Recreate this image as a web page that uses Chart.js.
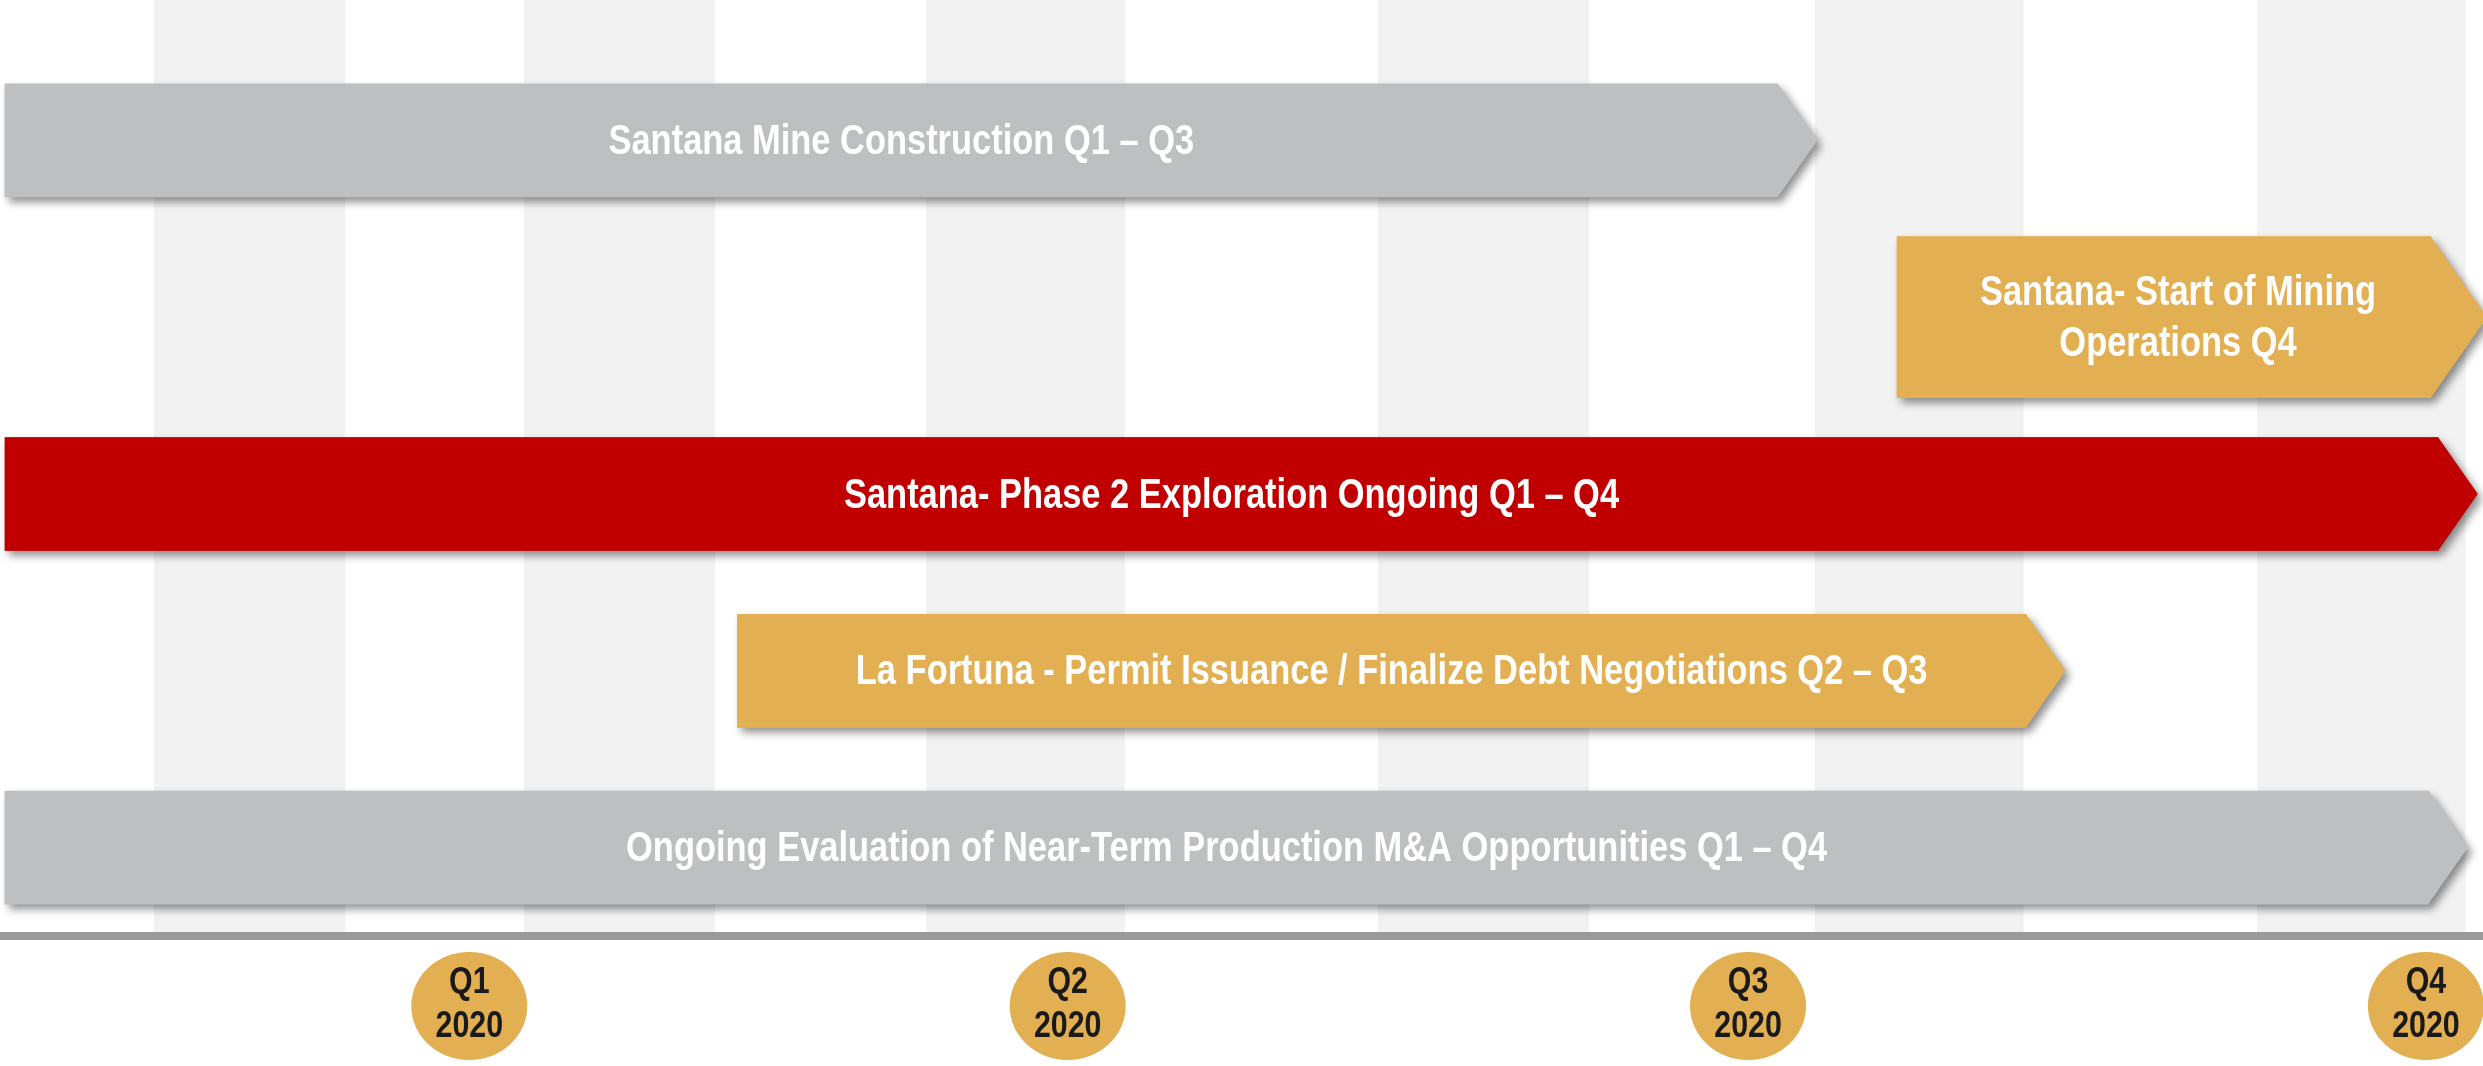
<!DOCTYPE html>
<html>
<head>
<meta charset="utf-8">
<script src="https://cdn.jsdelivr.net/npm/chart.js@4.4.1/dist/chart.umd.min.js"></script>
<style>
  html, body { margin: 0; padding: 0; background: #ffffff; }
  #wrap { width: 2483px; height: 1066px; }
</style>
</head>
<body>
<div id="wrap"><canvas id="roadmap" width="2483" height="1066"></canvas></div>
<script>
// timeline runs 0..100 from the left edge to the right edge of the page
const taskNames = [
  ['Santana Mine Construction Q1 – Q3'],
  ['Santana- Start of Mining', 'Operations Q4'],
  ['Santana- Phase 2 Exploration Ongoing Q1 – Q4'],
  ['La Fortuna - Permit Issuance / Finalize Debt Negotiations Q2 – Q3'],
  ['Ongoing Evaluation of Near-Term Production M&A Opportunities Q1 – Q4']
];
const taskStart = [0.2, 76.4, 0.2, 29.7, 0.2];
const taskEnd = [71.6, 97.9, 98.2, 81.6, 97.8];

const quarterPos = [18.9, 43.0, 70.4, 97.7];
const quarterLabels = [['Q1', '2020'], ['Q2', '2020'], ['Q3', '2020'], ['Q4', '2020']];

// shaded background bands
const bandStart = [6.2, 21.1, 37.3, 55.5, 73.1, 90.9];
const bandEnd = [13.9, 28.8, 45.3, 64.0, 81.5, 99.3];

// styles
const GREY = '#bebfc1', GOLD = '#e2af52', RED = '#c00000';
const barColors = [GREY, GOLD, RED, GOLD, GREY];

// narrow bold face if we have one, otherwise squeeze the regular one
const probe = document.createElement('canvas').getContext('2d');
probe.font = 'bold 40px "Liberation Sans Narrow"';
const wNarrow = probe.measureText('Santana Mine Construction').width;
probe.font = 'bold 40px "Liberation Sans"';
const wWide = probe.measureText('Santana Mine Construction').width;
const HAS_NARROW = wNarrow < wWide * 0.9;
const FACE = HAS_NARROW ? '"Liberation Sans Narrow", "Arial Narrow"' : '"Liberation Sans", Arial';
const SQUEEZE = HAS_NARROW ? 1 : 0.82;

function eachBar(chart, fn) {
  chart.data.datasets.forEach((ds, di) => {
    const meta = chart.getDatasetMeta(di);
    meta.data.forEach((el, i) => {
      if (ds.data[i] == null) return;
      fn(el.getProps(['x', 'y', 'base', 'height'], true), i);
    });
  });
}

function squeezedText(ctx, str, x, y) {
  ctx.save();
  ctx.translate(x, y);
  ctx.scale(SQUEEZE, 1);
  ctx.fillText(str, 0, 0);
  ctx.restore();
}

const arrows = {
  id: 'arrows',
  beforeDraw(chart) {
    const {ctx, chartArea, scales} = chart;
    ctx.save();
    ctx.fillStyle = '#ffffff';
    ctx.fillRect(0, 0, chart.width, chart.height);
    ctx.fillStyle = '#f2f2f2';
    bandStart.forEach((s, i) => {
      const a = scales.x.getPixelForValue(s), b = scales.x.getPixelForValue(bandEnd[i]);
      ctx.fillRect(a, 0, b - a, chartArea.bottom);
    });
    // quarter badges
    ctx.fillStyle = GOLD;
    scales.x.ticks.forEach(t => {
      const px = scales.x.getPixelForValue(t.value);
      ctx.beginPath();
      ctx.ellipse(px, scales.x.top + 70, 58, 54, 0, 0, Math.PI * 2);
      ctx.fill();
    });
    ctx.restore();
  },
  beforeDatasetsDraw(chart) {
    const ctx = chart.ctx;
    eachBar(chart, (p, i) => {
      const left = Math.min(p.x, p.base), right = Math.max(p.x, p.base);
      const top = p.y - p.height / 2, bot = p.y + p.height / 2;
      const tip = p.height * 0.35;
      ctx.save();
      ctx.shadowColor = 'rgba(0,0,0,0.45)';
      ctx.shadowBlur = 8;
      ctx.shadowOffsetX = 4;
      ctx.shadowOffsetY = 5;
      ctx.fillStyle = barColors[i];
      ctx.beginPath();
      ctx.moveTo(left, top);
      ctx.lineTo(right, top);
      ctx.lineTo(right + tip, p.y);
      ctx.lineTo(right, bot);
      ctx.lineTo(left, bot);
      ctx.closePath();
      ctx.fill();
      ctx.restore();
    });
  },
  afterDatasetsDraw(chart) {
    const ctx = chart.ctx;
    eachBar(chart, (p, i) => {
      const left = Math.min(p.x, p.base), right = Math.max(p.x, p.base);
      const tip = p.height * 0.35;
      const cx = (left + right) / 2 + tip / 4;
      const lines = taskNames[i];
      const lh = 51;
      ctx.save();
      ctx.fillStyle = '#ffffff';
      ctx.font = 'bold 42px ' + FACE;
      ctx.textAlign = 'center';
      ctx.textBaseline = 'middle';
      lines.forEach((ln, k) => {
        squeezedText(ctx, ln, cx, p.y + (k - (lines.length - 1) / 2) * lh + 2);
      });
      ctx.restore();
    });
  },
  afterDraw(chart) {
    // quarter labels on the badges, taken from the x-axis ticks
    const {ctx, scales} = chart;
    ctx.save();
    ctx.fillStyle = '#1a1a1a';
    ctx.font = 'bold 37px ' + FACE;
    ctx.textAlign = 'center';
    ctx.textBaseline = 'middle';
    scales.x.ticks.forEach((t, i) => {
      const px = scales.x.getPixelForValue(t.value);
      quarterLabels[i].forEach((ln, k) => {
        squeezedText(ctx, ln, px, scales.x.top + 47 + k * 44);
      });
    });
    ctx.restore();
  }
};

new Chart(document.getElementById('roadmap'), {
  type: 'bar',
  data: {
    labels: taskNames.map(n => n.join(' ')),
    datasets: [
      {
        label: 'One-line tasks',
        data: taskNames.map((n, i) => n.length === 1 ? [taskStart[i], taskEnd[i]] : null),
        backgroundColor: barColors,
        barThickness: 113,
        grouped: false
      },
      {
        label: 'Two-line tasks',
        data: taskNames.map((n, i) => n.length > 1 ? [taskStart[i], taskEnd[i]] : null),
        backgroundColor: barColors,
        barThickness: 161,
        grouped: false
      }
    ]
  },
  options: {
    indexAxis: 'y',
    responsive: false,
    animation: false,
    devicePixelRatio: 1,
    layout: { padding: { top: 52, left: 0, right: 0, bottom: 0 } },
    plugins: {
      legend: { display: false },
      tooltip: { enabled: false }
    },
    scales: {
      y: { type: 'category', display: false },
      x: {
        type: 'linear',
        min: 0,
        max: 100,
        grid: { display: false, drawTicks: false },
        border: { display: true, color: '#9a9a9a', width: 8 },
        afterBuildTicks: s => { s.ticks = quarterPos.map(v => ({ value: v })); },
        afterFit: s => { s.height = 130; },
        ticks: { display: false, autoSkip: false }
      }
    }
  },
  plugins: [arrows]
});
</script>
</body>
</html>
